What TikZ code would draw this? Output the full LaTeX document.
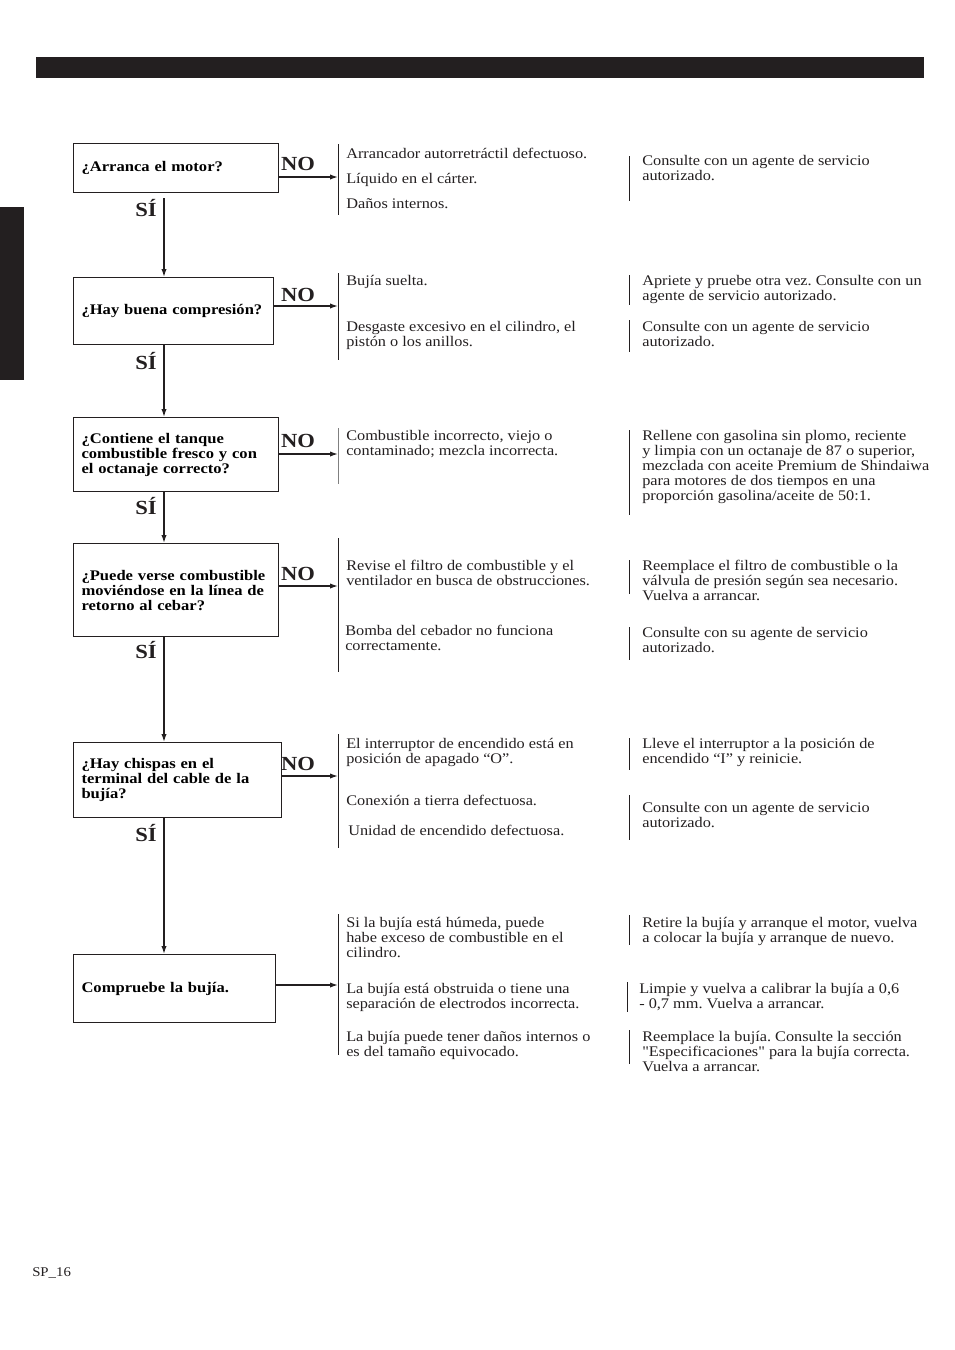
\documentclass[tikz,border=0pt]{standalone}
\usepackage{fontspec}
\setmainfont{Liberation Serif}[Ligatures=TeXOff,UprightFeatures={FakeStretch=1.11},BoldFeatures={FakeStretch=1.13}]
\usetikzlibrary{arrows.meta}
\frenchspacing

\definecolor{ink}{HTML}{231F20}

\begin{document}
\begin{tikzpicture}[x=0.75pt,y=-0.75pt,>={Latex[length=6pt,width=4pt]},
    qbox/.style 2 args={draw=ink, line width=0.8pt, anchor=north west, text width=#1,
        minimum height=#2, inner xsep=6pt, align=left,
        font=\bfseries\fontsize{11}{11.25}\selectfont},
    note/.style={anchor=north west, inner sep=0pt, align=left, text=ink,
        font=\fontsize{11}{11.25}\selectfont},
    nolabel/.style={font=\bfseries\fontsize{15}{15}\selectfont, text=ink, inner sep=0pt},
    silabel/.style={font=\bfseries\fontsize{15}{15}\selectfont, text=ink, inner sep=0pt},
    bar/.style={draw=ink, line width=0.6pt},
    flow/.style={draw=ink, line width=1pt}]
  \useasboundingbox (0,0) rectangle (954,1350);
  % header bar and side tab
  \fill[ink] (36,57) rectangle (924,78);
  \fill[ink] (0,207) rectangle (24,380);
  \coordinate (spine) at (164,0);

  % questions
  \node[qbox={141.75pt}{36.75pt}] (b1) at (73,143) {¿Arranca el motor?};
  \node[qbox={138pt}{50.25pt}] (b2) at (73,277) {¿Hay buena compresión?};
  \node[qbox={141.75pt}{55.5pt}] (b3) at (73,417) {¿Contiene el tanque\\combustible fresco y con\\el octanaje correcto?};
  \node[qbox={141.75pt}{69.75pt}] (b4) at (73,543) {¿Puede verse combustible\\moviéndose en la línea de\\retorno al cebar?};
  \node[qbox={144pt}{56.25pt}] (b5) at (73,742) {¿Hay chispas en el\\terminal del cable de la\\bujía?};
  \node[qbox={139.5pt}{51pt}] (b6) at (73,954) {Compruebe la bujía.};

  % yes / no labels
  \node[nolabel] (no1) at (298,164) {NO};
  \node[nolabel] (no2) at (298,295) {NO};
  \node[nolabel] (no3) at (298,441) {NO};
  \node[nolabel] (no4) at (298,574) {NO};
  \node[nolabel] (no5) at (298,764) {NO};
  \node[silabel] (si1) at (146,208) {SÍ};
  \node[silabel] (si2) at (146,361) {SÍ};
  \node[silabel] (si3) at (146,506) {SÍ};
  \node[silabel] (si4) at (146,650) {SÍ};
  \node[silabel] (si5) at (146,833) {SÍ};

  % causes
  \node[note] (c1a) at (346,148) {Arrancador autorretráctil defectuoso.};
  \node[note] (c1b) at (346,173) {Líquido en el cárter.};
  \node[note] (c1c) at (346,198) {Daños internos.};
  \node[note] (c2a) at (346,275) {Bujía suelta.};
  \node[note] (c2b) at (346,321) {Desgaste excesivo en el cilindro, el\\pistón o los anillos.};
  \node[note] (c3a) at (346,430) {Combustible incorrecto, viejo o\\contaminado; mezcla incorrecta.};
  \node[note] (c4a) at (346,560) {Revise el filtro de combustible y el\\ventilador en busca de obstrucciones.};
  \node[note] (c4b) at (345,625) {Bomba del cebador no funciona\\correctamente.};
  \node[note] (c5a) at (346,738) {El interruptor de encendido está en\\posición de apagado “O”.};
  \node[note] (c5b) at (346,795) {Conexión a tierra defectuosa.};
  \node[note] (c5c) at (348,825) {Unidad de encendido defectuosa.};
  \node[note] (c6a) at (346,917) {Si la bujía está húmeda, puede\\habe exceso de combustible en el\\cilindro.};
  \node[note] (c6b) at (346,983) {La bujía está obstruida o tiene una\\separación de electrodos incorrecta.};
  \node[note] (c6c) at (346,1031) {La bujía puede tener daños internos o\\es del tamaño equivocado.};

  % remedies
  \node[note] (r1) at (642,155) {Consulte con un agente de servicio\\autorizado.};
  \node[note] (r2a) at (642,275) {Apriete y pruebe otra vez. Consulte con un\\agente de servicio autorizado.};
  \node[note] (r2b) at (642,321) {Consulte con un agente de servicio\\autorizado.};
  \node[note] (r3) at (642,430) {Rellene con gasolina sin plomo, reciente\\y limpia con un octanaje de 87 o superior,\\mezclada con aceite Premium de Shindaiwa\\para motores de dos tiempos en una\\proporción gasolina/aceite de 50:1.};
  \node[note] (r4a) at (642,560) {Reemplace el filtro de combustible o la\\válvula de presión según sea necesario.\\Vuelva a arrancar.};
  \node[note] (r4b) at (642,627) {Consulte con su agente de servicio\\autorizado.};
  \node[note] (r5a) at (642,738) {Lleve el interruptor a la posición de\\encendido “I” y reinicie.};
  \node[note] (r5b) at (642,802) {Consulte con un agente de servicio\\autorizado.};
  \node[note] (r6a) at (642,917) {Retire la bujía y arranque el motor, vuelva\\a colocar la bujía y arranque de nuevo.};
  \node[note] (r6b) at (639,983) {Limpie y vuelva a calibrar la bujía a 0,6\\- 0,7 mm. Vuelva a arrancar.};
  \node[note] (r6c) at (642,1031) {Reemplace la bujía. Consulte la sección\\"Especificaciones" para la bujía correcta.\\Vuelva a arrancar.};

  % brackets
  \draw[bar] (338,144) -- (338,215);
  \draw[bar] (338,273) -- (338,360);
  \draw[bar, draw=gray] (338,428) -- (338,484);
  \draw[bar] (338,538) -- (338,672);
  \draw[bar] (338,734) -- (338,848);
  \draw[bar] (338,914) -- (338,1055);
  \draw[bar] (629,156) -- (629,201);
  \draw[bar] (629,275) -- (629,305);
  \draw[bar] (629,320) -- (629,352);
  \draw[bar] (629,430) -- (629,515);
  \draw[bar] (629,560) -- (629,594);
  \draw[bar] (629,627) -- (629,660);
  \draw[bar] (629,738) -- (629,770);
  \draw[bar] (629,795) -- (629,840);
  \draw[bar] (629,915) -- (629,945);
  \draw[bar] (627,982) -- (627,1012);
  \draw[bar] (629,1030) -- (629,1064);

  % arrow ends on the brackets
  \coordinate (e1) at (338,177);
  \coordinate (e2) at (338,306);
  \coordinate (e3) at (338,454);
  \coordinate (e4) at (338,586);
  \coordinate (e5) at (338,776);
  \coordinate (e6) at (338,985);

  \path[->, every edge/.append style={flow}]
    (b1.east |- e1) edge (e1)
    (b2.east |- e2) edge (e2)
    (b3.east |- e3) edge (e3)
    (b4.east |- e4) edge (e4)
    (b5.east |- e5) edge (e5)
    (b6.east |- e6) edge (e6)
    (b1.south -| spine) edge[shorten <=3.75pt] (b2.north -| spine)
    (b2.south -| spine) edge (b3.north -| spine)
    (b3.south -| spine) edge (b4.north -| spine)
    (b4.south -| spine) edge (b5.north -| spine)
    (b5.south -| spine) edge (b6.north -| spine);

  \node[anchor=west, inner sep=0pt, text=ink, font=\fontsize{10}{10}\selectfont] (page) at (32,1273) {SP\_16};
\end{tikzpicture}
\end{document}
